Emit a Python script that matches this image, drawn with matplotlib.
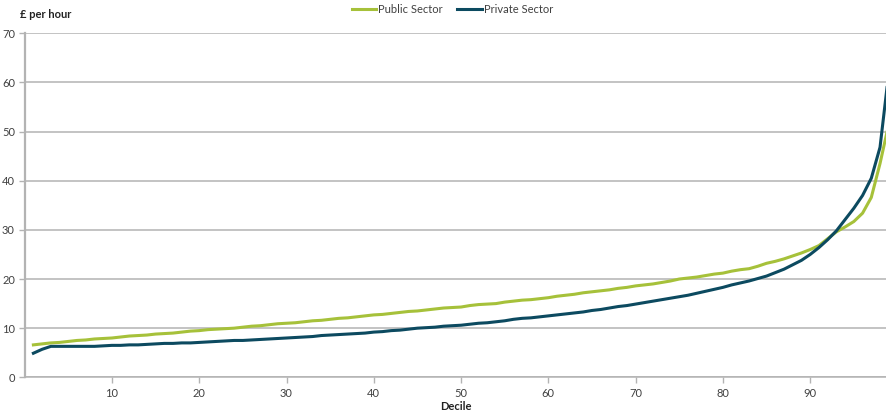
import numpy as np
import matplotlib
matplotlib.use('Agg')
import matplotlib.pyplot as plt

# --- data: hourly pay by percentile ---
decile = list(range(1, 100))

public_sector = [
    6.6, 6.8, 7.0, 7.1, 7.3, 7.5, 7.6, 7.8, 7.9, 8.0,
    8.2, 8.4, 8.5, 8.6, 8.8, 8.9, 9.0, 9.2, 9.4, 9.5,
    9.7, 9.8, 9.9, 10.0, 10.2, 10.4, 10.5, 10.7, 10.9, 11.0,
    11.1, 11.3, 11.5, 11.6, 11.8, 12.0, 12.1, 12.3, 12.5, 12.7,
    12.8, 13.0, 13.2, 13.4, 13.5, 13.7, 13.9, 14.1, 14.2, 14.3,
    14.6, 14.8, 14.9, 15.0, 15.3, 15.5, 15.7, 15.8, 16.0, 16.2,
    16.5, 16.7, 16.9, 17.2, 17.4, 17.6, 17.8, 18.1, 18.3, 18.6,
    18.8, 19.0, 19.3, 19.6, 20.0, 20.2, 20.4, 20.7, 21.0, 21.2,
    21.6, 21.9, 22.1, 22.6, 23.2, 23.6, 24.1, 24.7, 25.3, 26.0,
    26.8, 28.2, 29.6, 30.6, 31.7, 33.4, 36.6, 43.5, 51.5,
]

private_sector = [
    4.9, 5.7, 6.3, 6.3, 6.3, 6.3, 6.3, 6.3, 6.4, 6.5,
    6.5, 6.6, 6.6, 6.7, 6.8, 6.9, 6.9, 7.0, 7.0, 7.1,
    7.2, 7.3, 7.4, 7.5, 7.5, 7.6, 7.7, 7.8, 7.9, 8.0,
    8.1, 8.2, 8.3, 8.5, 8.6, 8.7, 8.8, 8.9, 9.0, 9.2,
    9.3, 9.5, 9.6, 9.8, 10.0, 10.1, 10.2, 10.4, 10.5, 10.6,
    10.8, 11.0, 11.1, 11.3, 11.5, 11.8, 12.0, 12.1, 12.3, 12.5,
    12.7, 12.9, 13.1, 13.3, 13.6, 13.8, 14.1, 14.4, 14.6, 14.9,
    15.2, 15.5, 15.8, 16.1, 16.4, 16.7, 17.1, 17.5, 17.9, 18.3,
    18.8, 19.2, 19.6, 20.1, 20.6, 21.3, 22.0, 22.9, 23.8, 25.0,
    26.4, 28.0, 29.8, 32.1, 34.4, 37.0, 40.5, 46.8, 62.0,
]

x_ticks = [10, 20, 30, 40, 50, 60, 70, 80, 90]
y_ticks = [0, 10, 20, 30, 40, 50, 60, 70]

green = '#a6c13a'
navy = '#0c4a60'
grid_grey = '#b3b3b3'
text_grey = '#404040'

plt.rcParams['font.family'] = ['Lato', 'DejaVu Sans']

fig = plt.figure(figsize=(8.87, 4.12), dpi=100)
ax = fig.add_axes([0.0278, 0.0842, 0.9722, 0.835])

ax.plot(decile, public_sector, color=green, lw=2.2, label='Public Sector',
        solid_joinstyle='round', zorder=3)
ax.plot(decile, private_sector, color=navy, lw=2.2, label='Private Sector',
        solid_joinstyle='round', zorder=3)

ax.set_xlim(0, 98.8)
ax.set_ylim(0, 70)
ax.set_xticks(x_ticks)
ax.set_yticks(y_ticks)
ax.grid(axis='y', color=grid_grey, lw=1.1)
ax.set_axisbelow(True)

for side in ['top', 'right']:
    ax.spines[side].set_visible(False)
ax.spines['left'].set_color(grid_grey)
ax.spines['left'].set_linewidth(1.6)
ax.spines['bottom'].set_color(grid_grey)
ax.spines['bottom'].set_linewidth(1.1)

ax.tick_params(axis='both', colors=grid_grey, length=4, width=1,
               labelcolor=text_grey, labelsize=8)
ax.tick_params(axis='y', pad=3)
ax.tick_params(axis='x', pad=4)

ax.set_xlabel('Decile', fontsize=8, fontweight='bold', color='#222222', labelpad=1)
fig.text(0.022, 0.965, '£ per hour', fontsize=8, fontweight='bold',
         color='#222222', va='center', ha='left')

leg = fig.legend(loc='center', bbox_to_anchor=(0.51, 0.978), ncol=2,
                 frameon=False, fontsize=8, handlelength=2.2,
                 handletextpad=0.2, columnspacing=1.3)
for t in leg.get_texts():
    t.set_color(text_grey)

plt.savefig('out.png', dpi=100)
